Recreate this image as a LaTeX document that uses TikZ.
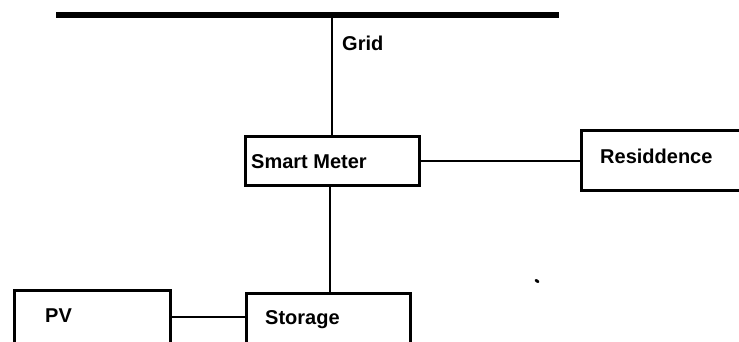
\documentclass[tikz,border=0pt]{standalone}
\usepackage{fontspec}
\setmainfont{Liberation Sans}
\begin{document}
\begin{tikzpicture}[x=1pt,y=-1pt,
  box/.style={draw=black,line width=3pt,inner sep=0pt,anchor=north west},
  lbl/.style={font=\fontsize{20}{22}\selectfont\bfseries,inner sep=0pt,anchor=base west},
  wire/.style={draw=black,line width=2.8pt},
  bus/.style={draw=black,line width=6pt}]
\useasboundingbox (0,0) rectangle (739,341);
\clip (0,0) rectangle (739,341);
% bus bar
\coordinate (busL) at (56,15);
\coordinate (busR) at (559,15);
\coordinate (busT) at (332,15);
\draw[bus] (busL) -- (busR);
% boxes
\node[box,minimum width=174pt,minimum height=49pt] (sm) at (244,135) {};
\node[box,minimum width=180pt,minimum height=60pt] (res) at (580,129) {};
\node[box,minimum width=164pt,minimum height=70pt] (sto) at (245,292) {};
\node[box,minimum width=156pt,minimum height=72pt] (pv) at (13,289) {};
% labels
\node[lbl] (grid) at (342,50) {Grid};
\node[lbl] (smt) at (251,168) {Smart Meter};
\node[lbl] (rest) at (600,163) {Residdence};
\node[lbl] (pvt) at (45,322) {PV};
\node[lbl] (stot) at (265,324) {Storage};
% connectors
\draw[wire] (busT) -- (busT |- sm.north);
\draw[wire] (sm.east |- 0,161) -- (res.west |- 0,161);
\draw[wire] (330,184) coordinate (smb) -- (smb |- sto.north);
\draw[wire] (pv.east |- 0,317) -- (sto.west |- 0,317);
% speck
\fill[black,rotate around={-35:(537,281)}] (537,281) ellipse (2.5pt and 1.6pt);
\end{tikzpicture}
\end{document}
